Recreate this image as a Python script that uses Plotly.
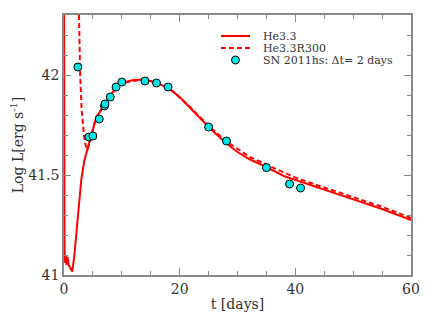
import plotly.graph_objects as go

# Model He3.3 (solid)
t_he33 = [0.0, 0.01, 0.03, 0.1, 0.2, 0.3, 0.45, 0.6, 0.8, 1.0, 1.2, 1.43, 1.8, 2.2, 2.6, 3.0, 3.5,
          4.0, 4.5, 5.0, 5.6, 6.2, 7.0, 8.0, 9.0, 10.0, 12.0, 14.0, 16.0, 18.0, 20.0, 22.0, 25.0,
          28.0, 30.0, 32.0, 35.0, 38.0, 40.0, 44.0, 50.0, 55.0, 60.0]
L_he33 = [42.5, 42.5, 41.25, 41.12, 41.06, 41.1, 41.05, 41.09, 41.05, 41.04, 41.025, 41.017, 41.1,
          41.23, 41.36, 41.48, 41.57, 41.625, 41.68, 41.73, 41.79, 41.815, 41.85, 41.9, 41.935,
          41.96, 41.975, 41.977, 41.962, 41.935, 41.89, 41.83, 41.74, 41.66, 41.615, 41.58,
          41.54, 41.495, 41.475, 41.435, 41.378, 41.33, 41.275]

# Model He3.3R300 (dashed)
t_r300 = [2.45, 2.6, 2.8, 3.05, 3.5, 3.8, 4.0, 4.3, 4.7, 5.2, 5.6, 6.2, 7.0, 8.0, 10.0, 14.0, 18.0,
          22.0, 25.0, 28.0, 32.0, 35.0, 40.0, 44.0, 50.0, 55.0, 60.0]
L_r300 = [42.5, 42.2, 42.0, 41.825, 41.69, 41.64, 41.625, 41.65, 41.70, 41.75, 41.79, 41.815,
          41.852, 41.9, 41.96, 41.979, 41.94, 41.835, 41.745, 41.67, 41.592, 41.552, 41.487,
          41.447, 41.391, 41.341, 41.285]

# SN 2011hs observations
t_obs = [2.4, 4.3, 5.0, 6.1, 7.0, 7.1, 8.0, 9.0, 10.0, 14.0, 16.0, 18.0, 25.0, 28.1, 35.0, 39.0, 40.9]
L_obs = [42.04, 41.69, 41.695, 41.78, 41.845, 41.855, 41.89, 41.94, 41.965, 41.97, 41.96, 41.94,
         41.74, 41.67, 41.537, 41.455, 41.435]

legend_names = ["He3.3", "He3.3R300", "SN 2011hs: Δt= 2 days"]

FONT = "DejaVu Serif"
TXT = "#333333"
RED = "#ff0000"
CYAN = "#00e6e6"
DASH = "5px,3px"

W, H = 438, 327
OFF = 8  # page body margin offset
ML, MR, MT, MB = 64, 27, 15, 52
PW, PH = W - ML - MR, H - MT - MB


def px(x):
    return (x - ML) / PW


def py(y):
    return 1 - (y - MT) / PH


fig = go.Figure()
fig.add_trace(go.Scatter(x=t_he33, y=L_he33, mode="lines", name=legend_names[0],
                         line=dict(color=RED, width=2), showlegend=False))
fig.add_trace(go.Scatter(x=t_r300, y=L_r300, mode="lines", name=legend_names[1],
                         line=dict(color=RED, width=2, dash=DASH), showlegend=False))
fig.add_trace(go.Scatter(x=t_obs, y=L_obs, mode="markers", name=legend_names[2],
                         marker=dict(color=CYAN, size=8, line=dict(color="black", width=1)),
                         showlegend=False))

# Manual compact legend
rows = [36, 48, 60]
fig.add_shape(type="line", xref="paper", yref="paper", x0=px(221), x1=px(250), y0=py(rows[0]), y1=py(rows[0]),
              line=dict(color=RED, width=2))
fig.add_shape(type="line", xref="paper", yref="paper", x0=px(221), x1=px(250), y0=py(rows[1]), y1=py(rows[1]),
              line=dict(color=RED, width=2, dash=DASH))
fig.add_shape(type="circle", xref="paper", yref="paper", x0=px(231.5), x1=px(239.5),
              y0=py(rows[2] - 4), y1=py(rows[2] + 4),
              fillcolor=CYAN, line=dict(color="black", width=1))
for name, r in zip(legend_names, rows):
    fig.add_annotation(text=name, xref="paper", yref="paper", x=px(261), y=py(r),
                       xanchor="left", yanchor="middle", showarrow=False,
                       font=dict(family=FONT, size=11, color=TXT))

axis_common = dict(showline=True, linecolor="#888888", linewidth=1.5, mirror="ticks",
                   ticks="inside", tickcolor="#888888", ticklen=7, tickwidth=1.2,
                   showgrid=False, zeroline=False, automargin=False,
                   tickfont=dict(family=FONT, size=14, color=TXT))
fig.update_xaxes(range=[0, 60], tickvals=[0, 20, 40, 60],
                 minor=dict(dtick=5, ticks="inside", ticklen=4, tickcolor="#888888", showgrid=False),
                 title=dict(text="t [days]", font=dict(family=FONT, size=14, color=TXT), standoff=4),
                 **axis_common)
fig.update_yaxes(range=[41, 42.3], tickvals=[41, 41.5, 42], ticktext=["41", "41.5", "42"],
                 minor=dict(dtick=0.1, ticks="inside", ticklen=4, tickcolor="#888888", showgrid=False),
                 title=dict(text="Log L[erg s<sup>-1</sup>]", font=dict(family=FONT, size=14, color=TXT), standoff=4),
                 **axis_common)
fig.update_layout(width=W, height=H,
                  margin=dict(l=ML - OFF, r=MR + OFF, t=MT - OFF, b=MB + OFF),
                  plot_bgcolor="white", paper_bgcolor="white", showlegend=False)
fig.write_html("out.html")
